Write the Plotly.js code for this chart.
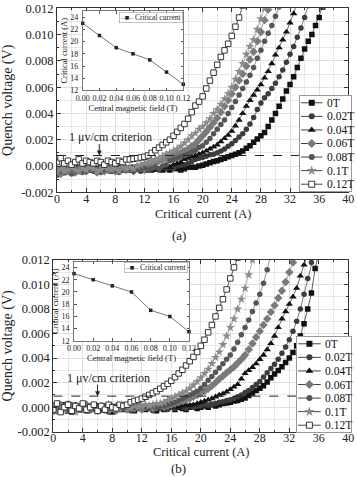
<!DOCTYPE html>
<html><head><meta charset="utf-8">
<script src="https://cdn.plot.ly/plotly-3.0.1.min.js"></script>
<style>html,body{margin:0;padding:0;background:#fff}#chart{width:357px;height:477px}</style>
</head><body><div id="chart"></div>
<script>
// ---------- data ----------
const current = [0,0.5,1,1.5,2,2.5,3,3.5,4,4.5,5,5.5,6,6.5,7,7.5,8,8.5,9,9.5,10,10.5,11,11.5,12,12.5,13,13.5,14,14.5,15,15.5,16,16.5,17,17.5,18,18.5,19,19.5,20,20.5,21,21.5,22,22.5,23,23.5,24,24.5,25,25.5,26,26.5,27,27.5,28,28.5,29,29.5,30,30.5,31,31.5,32,32.5,33,33.5,34,34.5,35,35.5,36,36.5,37];
const seriesNames = ['0T','0.02T','0.04T','0.06T','0.08T','0.1T','0.12T'];

// panel (a), quench voltage in mV
const mVa_0T = [-0.6,-0.3,-0.5,-0.2,-0.4,-0.3,-0.1,-0.4,-0.2,-0.3, -0.2,-0.4,-0.1,-0.3,-0.2,-0.4,-0.2,-0.1,-0.3,-0.2, -0.3,-0.1,-0.2,-0.3,-0.2,-0.1,-0.3,-0.2,-0.2,-0.3, -0.2,-0.3,-0.1,-0.2,-0.3,-0.2,-0.1,-0.1,-0.1,0.0, 0.05,0.15,0.25,0.35,0.4,0.5,0.6,0.7,0.8,0.9, 1.0,1.15,1.35,1.55,1.8,2.05,2.3,2.55,3.0,3.5, 4.0,4.55,5.1,5.7,6.2,6.8,7.5,8.2,8.9,9.5, 10.0,10.7,11.3,12.1,12.9];
const mVa_002T = [-0.4,-0.2,-0.5,-0.3,-0.1,-0.4,-0.3,-0.2,-0.4,-0.1, -0.3,-0.2,-0.4,-0.3,-0.1,-0.2,-0.3,-0.4,-0.2,-0.3, -0.1,-0.3,-0.2,-0.4,-0.2,-0.3,-0.1,-0.2,-0.3,-0.1, -0.2,-0.1,-0.2,0.0,0.05,0.1,0.2,0.35,0.5,0.6, 0.65,0.75,0.85,0.9,1.0,1.15,1.3,1.5,1.7,1.95, 2.2,2.45,2.8,3.2,3.7,4.3,4.8,5.2,5.5,5.9, 6.3,6.8,7.3,7.9,8.5,9.1,9.8,10.5,11.3,12.2];
const mVa_004T = [-0.5,-0.3,-0.2,-0.4,-0.3,-0.2,-0.5,-0.3,-0.1,-0.3, -0.4,-0.2,-0.3,-0.1,-0.3,-0.2,-0.4,-0.2,-0.3,-0.1, -0.2,-0.3,-0.1,-0.2,-0.4,-0.2,-0.1,-0.3,-0.2,-0.1, 0.0,-0.1,0.1,0.2,0.3,0.5,0.6,0.7,0.8,0.9, 1.0,1.15,1.3,1.45,1.6,1.85,2.1,2.35,2.65,3.05, 3.5,4.0,4.55,5.0,5.4,5.8,6.2,6.7,7.2,7.8, 8.45,9.0,9.6,10.2,10.9,11.6,12.4];
const mVa_006T = [-0.3,-0.6,-0.2,-0.4,-0.3,-0.5,-0.2,-0.3,-0.4,-0.2, -0.3,-0.5,-0.2,-0.4,-0.3,-0.2,-0.4,-0.3,-0.1,-0.3, -0.2,-0.4,-0.2,-0.1,-0.3,-0.1,0.0,0.2,0.4,0.5, 0.6,0.7,0.8,0.9,1.0,1.15,1.3,1.5,1.7,2.0, 2.3,2.6,2.95,3.3,3.65,4.1,4.55,5.0,5.5,6.0, 6.5,7.0,7.6,8.1,8.7,9.5,10.2,11.1,11.9,12.8];
const mVa_008T = [-0.7,-0.4,-0.5,-0.3,-0.6,-0.4,-0.3,-0.5,-0.4,-0.2, -0.4,-0.3,-0.5,-0.3,-0.2,-0.4,-0.3,-0.5,-0.3,-0.2, -0.3,-0.4,-0.2,-0.3,-0.1,-0.3,-0.2,-0.1,-0.2,0.0, 0.1,0.4,0.5,0.6,0.7,0.8,0.9,1.05,1.2,1.4, 1.55,1.8,2.1,2.45,2.8,3.15,3.5,4.0,4.45,4.9, 5.4,5.9,6.4,6.9,7.5,8.2,8.8,9.5,10.1,10.7, 11.4,12.1];
const mVa_01T = [-0.5,-0.2,-0.4,-0.3,-0.1,-0.3,-0.4,-0.2,-0.3,-0.1, -0.2,-0.4,-0.3,-0.1,-0.2,-0.3,-0.2,-0.4,-0.1,-0.2, -0.1,-0.2,0.0,0.1,0.2,0.3,0.4,0.5,0.6,0.75, 0.9,1.0,1.15,1.3,1.5,1.75,2.0,2.3,2.5,2.8, 3.0,3.3,3.6,4.0,4.3,4.7,5.1,5.5,6.0,6.6, 7.2,7.8,8.5,9.1,9.6,10.4,11.2,12.0,12.8];
const mVa_012T = [0.3,0.6,0.2,0.4,0.1,0.3,0.5,0.2,0.4,0.3, 0.2,0.4,0.3,0.1,0.4,0.3,0.2,0.4,0.3,0.5, 0.5,0.55,0.6,0.65,0.7,0.8,1.0,1.2,1.4,1.6, 1.8,2.0,2.3,2.6,2.9,3.2,3.6,4.1,4.6,4.9, 5.3,5.9,6.5,7.1,7.7,8.3,8.8,9.3,9.9,10.6, 11.3,12.2];

// panel (b), quench voltage in mV
const mVb_0T = [-0.3,0.1,-0.2,0.2,-0.1,-0.4,0.0,-0.2,0.1,-0.3, -0.1,0.0,-0.3,-0.1,0.1,-0.2,-0.4,0.0,-0.1,-0.2, 0.1,-0.2,-0.3,0.0,-0.1,-0.2,0.1,-0.1,-0.3,0.0, -0.2,-0.1,0.1,-0.2,0.0,-0.1,-0.2,0.0,0.1,-0.1, 0.0,0.1,0.0,0.2,0.1,0.2,0.3,0.35,0.4,0.5, 0.55,0.65,0.75,0.95,1.15,1.35,1.55,1.75,2.05,2.4, 2.7,3.0,3.3,3.65,4.0,4.45,5.0,5.8,6.8,8.0, 9.3,11.3,12.6];
const mVb_002T = [0.2,-0.2,-0.4,0.0,0.3,-0.1,-0.3,0.1,-0.2,0.0, -0.3,0.2,-0.1,-0.2,0.0,-0.4,-0.1,0.1,-0.2,-0.1, 0.0,-0.3,-0.1,0.1,-0.2,0.0,-0.1,-0.3,0.0,-0.1, 0.1,-0.2,0.0,-0.1,0.1,0.0,-0.1,0.1,0.0,0.1, 0.1,0.2,0.15,0.25,0.3,0.4,0.45,0.55,0.6,0.7, 0.85,1.0,1.2,1.35,1.6,1.85,2.1,2.45,2.8,3.15, 3.5,3.9,4.4,4.9,5.5,6.2,7.0,8.0,9.2,10.5, 11.8,12.8];
const mVb_004T = [-0.1,0.3,-0.2,0.1,-0.4,0.2,-0.1,-0.3,0.0,0.2, -0.2,-0.1,0.1,-0.3,0.0,-0.2,0.1,-0.1,-0.2,0.0, -0.1,0.1,-0.2,-0.1,0.0,-0.2,0.1,0.0,-0.1,0.0, -0.1,0.1,0.0,0.1,0.0,0.1,0.2,0.15,0.2,0.3, 0.4,0.5,0.6,0.7,0.85,1.0,1.1,1.25,1.45,1.65, 1.85,2.3,2.75,3.0,3.25,3.55,3.9,4.25,4.7,5.2, 5.8,6.5,7.2,7.8,8.4,9.0,9.7,10.7,11.6,12.5];
const mVb_006T = [0.0,-0.3,0.2,-0.1,-0.2,0.1,-0.3,0.0,-0.1,0.2, -0.2,0.0,-0.3,0.1,-0.1,-0.2,0.0,-0.3,-0.1,0.1, -0.2,0.0,-0.1,0.1,-0.2,0.0,0.1,-0.1,0.0,0.1, 0.0,0.1,0.2,0.3,0.4,0.5,0.6,0.7,0.85,1.0, 1.15,1.3,1.5,1.75,2.0,2.3,2.55,2.8,3.05,3.3, 3.6,3.9,4.25,4.7,5.2,5.7,6.2,6.7,7.2,7.75, 8.3,8.9,9.5,10.2,11.0,11.8,12.6];
const mVb_008T = [-0.4,0.0,-0.2,0.1,-0.3,-0.1,0.2,-0.2,0.0,-0.3, 0.1,-0.2,-0.1,0.0,-0.3,0.1,-0.1,-0.2,0.0,-0.1, 0.1,-0.2,0.0,-0.1,0.1,0.0,-0.1,0.1,0.0,0.1, 0.1,0.2,0.3,0.4,0.55,0.7,0.85,1.0,1.15,1.3, 1.55,1.85,2.2,2.5,2.85,3.2,3.55,3.9,4.25,4.75, 5.3,5.9,6.5,7.1,7.8,8.5,9.2,10.1,11.2,12.4];
const mVb_01T = [0.1,-0.3,0.0,-0.2,0.2,-0.1,-0.4,0.0,0.1,-0.2, -0.1,0.1,-0.3,0.0,-0.1,0.2,-0.2,0.0,-0.1,0.1, 0.0,-0.1,0.1,0.0,0.1,0.2,0.1,0.2,0.3,0.3, 0.4,0.55,0.7,0.85,1.0,1.15,1.3,1.55,1.8,2.1, 2.4,2.75,3.1,3.55,4.05,4.5,5.1,5.8,6.5,7.2, 8.0,8.8,9.7,10.8,12.0,13.0];
const mVb_012T = [-0.2,0.3,-0.4,0.0,0.2,-0.3,0.1,-0.1,0.3,-0.2, 0.0,0.2,-0.3,0.1,-0.2,0.2,0.0,-0.1,0.2,0.1, 0.2,0.4,0.5,0.6,0.7,0.85,1.0,1.15,1.3,1.5, 1.7,1.9,2.15,2.45,2.75,3.05,3.4,3.75,4.1,4.5, 5.0,5.5,6.1,6.7,7.4,8.1,8.8,9.6,10.5,11.4, 12.2];

// insets: critical current vs central magnetic field
const fieldT = [0.00,0.02,0.04,0.06,0.08,0.10,0.12];
const icA = [23,21,19,18,17,15,13];
const icB = [23,22,21,20,17,16,13.5];

// 1 uV/cm criterion lines
const critXa = [0,33.4], critVa = [0.0008,0.0008];
const critXb = [0,33.0], critVb = [0.0009,0.0009];

// ticks
const xTicks = [0,4,8,12,16,20,24,28,32,36,40];
const yTickVals = [-0.002,0,0.002,0.004,0.006,0.008,0.010,0.012];
const yTickText = ['-0.002','0.000','0.002','0.004','0.006','0.008','0.010','0.012'];
const inXTicks = [0,0.02,0.04,0.06,0.08,0.10,0.12];
const inXText = ['0.00','0.02','0.04','0.06','0.08','0.10','0.12'];
const inYTicks = [12,14,16,18,20,22,24];

// ---------- styling ----------
const FONT = '"Liberation Serif", "Times New Roman", serif';
const styles = [
  {symbol:'square', size:5.5, fill:'#111', edge:'#111', ew:0, line:'#333'},
  {symbol:'circle', size:5.5, fill:'#3c3c3c', edge:'#3c3c3c', ew:0, line:'#555'},
  {symbol:'triangle-up', size:6.5, fill:'#111', edge:'#111', ew:0, line:'#444'},
  {symbol:'diamond', size:6.5, fill:'#7a7a7a', edge:'#7a7a7a', ew:0, line:'#888'},
  {symbol:'circle', size:5.5, fill:'#555', edge:'#555', ew:0, line:'#777'},
  {symbol:'star', size:7, fill:'#8a8a8a', edge:'#8a8a8a', ew:0, line:'#9a9a9a'},
  {symbol:'square', size:5.5, fill:'#fff', edge:'#222', ew:0.9, line:'#333'}
];
const seriesA = [mVa_0T,mVa_002T,mVa_004T,mVa_006T,mVa_008T,mVa_01T,mVa_012T];
const seriesB = [mVb_0T,mVb_002T,mVb_004T,mVb_006T,mVb_008T,mVb_01T,mVb_012T];

function dataTraces(list, xa, ya){
  return list.map((v,i)=>({
    type:'scatter', mode:'lines+markers', x: current.slice(0, v.length), y: v.map(m=>m/1000),
    xaxis:xa, yaxis:ya, showlegend:false, hoverinfo:'skip',
    line:{color:styles[i].line, width:0.8},
    marker:{symbol:styles[i].symbol, size:styles[i].size, color:styles[i].fill, line:{color:styles[i].edge, width:styles[i].ew}}
  }));
}
function legendTraces(xa, ya){
  const t = [];
  seriesNames.forEach((n,i)=>{
    t.push({type:'scatter', mode:'lines', x:[0.02,0.44], y:[i+1,i+1], xaxis:xa, yaxis:ya, showlegend:false, hoverinfo:'skip', line:{color:'#444', width:1}});
    t.push({type:'scatter', mode:'markers', x:[0.23], y:[i+1], xaxis:xa, yaxis:ya, showlegend:false, hoverinfo:'skip',
      marker:{symbol:styles[i].symbol, size:styles[i].size+0.5, color:styles[i].fill, line:{color:styles[i].edge, width:styles[i].ew}}});
  });
  return t;
}
function legendNotes(xa, ya){
  return seriesNames.map((n,i)=>({xref:xa, yref:ya, x:0.49, y:i+1, text:n, showarrow:false, xanchor:'left', yanchor:'middle', font:{family:FONT, size:11.5, color:'#111'}}));
}

const traces = [].concat(
  dataTraces(seriesA,'x','y'),
  dataTraces(seriesB,'x2','y2'),
  [
    {type:'scatter', mode:'lines', x:critXa, y:critVa, xaxis:'x', yaxis:'y', showlegend:false, hoverinfo:'skip', line:{color:'#222', width:1, dash:'dash'}},
    {type:'scatter', mode:'lines', x:critXb, y:critVb, xaxis:'x2', yaxis:'y2', showlegend:false, hoverinfo:'skip', line:{color:'#222', width:1, dash:'dash'}},
    {type:'scatter', mode:'lines+markers', x:fieldT, y:icA, xaxis:'x3', yaxis:'y3', cliponaxis:false, showlegend:false, hoverinfo:'skip', line:{color:'#777', width:1}, marker:{symbol:'square', size:3.5, color:'#222'}},
    {type:'scatter', mode:'lines+markers', x:fieldT, y:icB, xaxis:'x4', yaxis:'y4', cliponaxis:false, showlegend:false, hoverinfo:'skip', line:{color:'#777', width:1}, marker:{symbol:'square', size:3.5, color:'#222'}}
  ],
  legendTraces('x5','y5'),
  legendTraces('x6','y6')
);

const tickFont = {family:FONT, size:12.5, color:'#222'};
const xTickFont = {family:FONT, size:12, color:'#222'};
function mainX(dom, anchor){
  return {domain:dom, anchor:anchor, range:[0,40], tickmode:'array', tickvals:xTicks, tickfont:xTickFont,
    ticks:'inside', ticklen:4, tickcolor:'#333', showline:true, linecolor:'#333', linewidth:1, mirror:'ticks',
    showgrid:true, gridcolor:'#d9d9d9', gridwidth:0.6, zeroline:false,
    minor:{tickmode:'linear', tick0:0, dtick:2, ticks:'inside', ticklen:2, tickcolor:'#333', showgrid:true, gridcolor:'#d9d9d9', gridwidth:0.6}};
}
function mainY(dom, anchor){
  return {domain:dom, anchor:anchor, range:[-0.002,0.012], tickmode:'array', tickvals:yTickVals, ticktext:yTickText, tickfont:tickFont,
    ticks:'inside', ticklen:4, tickcolor:'#333', showline:true, linecolor:'#333', linewidth:1, mirror:'ticks',
    showgrid:true, gridcolor:'#d9d9d9', gridwidth:0.6, zeroline:false,
    minor:{tickmode:'linear', tick0:0, dtick:0.001, ticks:'inside', ticklen:2, tickcolor:'#333', showgrid:true, gridcolor:'#d9d9d9', gridwidth:0.6},
    title:{text:'Quench voltage (V)', font:{family:FONT, size:14, color:'#222'}, standoff:5}};
}
const inFont = {family:FONT, size:8, color:'#222'};
function insetX(dom, anchor){
  return {domain:dom, anchor:anchor, range:[0,0.12], tickmode:'array', tickvals:inXTicks, ticktext:inXText, tickfont:inFont,
    ticks:'inside', ticklen:2.5, tickcolor:'#555', showline:true, linecolor:'#555', linewidth:0.8, mirror:'ticks', showgrid:false, zeroline:false,
    title:{text:'Central magnetic field (T)', font:{family:FONT, size:8.5, color:'#222'}, standoff:0}};
}
function insetY(dom, anchor){
  return {domain:dom, anchor:anchor, range:[12,25], tickmode:'array', tickvals:inYTicks, tickfont:inFont, ticklabelstandoff:2,
    ticks:'inside', ticklen:2.5, tickcolor:'#555', showline:true, linecolor:'#555', linewidth:0.8, mirror:'ticks', showgrid:false, zeroline:false,
    title:{text:'Critical current (A)', font:{family:FONT, size:8.5, color:'#222'}, standoff:1}};
}
function legAx(dom, anchor, isY){
  return {domain:dom, anchor:anchor, range: isY ? [7.5,0.5] : [0,1], showline:true, linecolor:'#999', linewidth:1, mirror:true,
    showgrid:false, zeroline:false, showticklabels:false, ticks:'', fixedrange:true};
}

const W = 357, H = 477;
const px = v => v / W, py = v => (H - v) / H;

const insetLegendText = '<span style="color:#666">–</span>■<span style="color:#666">–</span> Critical current';
const xTitleFont = {family:FONT, size:12.5, color:'#222'};
function paperText(x, y, text, font){
  return {xref:'paper', yref:'paper', x:px(x), y:py(y), xanchor:'center', yanchor:'middle', text:text, showarrow:false, font:font};
}

const layout = {
  width:W, height:H, margin:{l:0,r:0,t:0,b:0}, paper_bgcolor:'#fff', plot_bgcolor:'#fff', showlegend:false,
  font:{family:FONT},
  xaxis: mainX([px(57), px(348.3)], 'y'),
  yaxis: mainY([py(192.3), py(8.3)], 'x'),
  xaxis2: mainX([px(53.3), px(348.3)], 'y2'),
  yaxis2: mainY([py(431.7), py(260)], 'x2'),
  xaxis3: insetX([px(82.7), px(183.3)], 'y3'),
  yaxis3: insetY([py(90.4), py(11.1)], 'x3'),
  xaxis4: insetX([px(74), px(189)], 'y4'),
  yaxis4: insetY([py(340.9), py(261.4)], 'x4'),
  xaxis5: legAx([px(300), px(351)], 'y5', false),
  yaxis5: legAx([py(191), py(96)], 'x5', true),
  xaxis6: legAx([px(297), px(351)], 'y6', false),
  yaxis6: legAx([py(432), py(337)], 'x6', true),
  annotations: [].concat(
    legendNotes('x5','y5'),
    legendNotes('x6','y6'),
    [
      paperText(202.6, 213.5, 'Critical current (A)', xTitleFont),
      paperText(200.8, 451.5, 'Critical current (A)', xTitleFont),
      {xref:'x', yref:'y', x:7.4, y:0.0022, xanchor:'center', yanchor:'middle', text:'1 μv/cm criterion', showarrow:false, font:{family:FONT, size:12, color:'#222'}},
      {xref:'x', yref:'y', x:5.8, y:critVa[0], ax:0, ay:-13, text:'', showarrow:true, arrowhead:2, arrowsize:1, arrowwidth:1, arrowcolor:'#222', standoff:0},
      {xref:'x2', yref:'y2', x:7.5, y:0.00237, xanchor:'center', yanchor:'middle', text:'1 μv/cm criterion', showarrow:false, font:{family:FONT, size:12, color:'#222'}},
      {xref:'x2', yref:'y2', x:6.0, y:critVb[0], ax:0, ay:-13, text:'', showarrow:true, arrowhead:2, arrowsize:1, arrowwidth:1, arrowcolor:'#222', standoff:0},
      {xref:'paper', yref:'paper', x:px(182.5), y:py(11.8), xanchor:'right', yanchor:'top', text:insetLegendText, showarrow:false, bgcolor:'#fff', bordercolor:'#999', borderwidth:0.6, borderpad:0.5, font:{family:FONT, size:7.5, color:'#222'}},
      {xref:'paper', yref:'paper', x:px(188.3), y:py(262.2), xanchor:'right', yanchor:'top', text:insetLegendText, showarrow:false, bgcolor:'#fff', bordercolor:'#999', borderwidth:0.6, borderpad:0.5, font:{family:FONT, size:7.5, color:'#222'}},
      paperText(178.5, 235, '(a)', {family:FONT, size:13, color:'#222'}),
      paperText(178.5, 468.5, '(b)', {family:FONT, size:13, color:'#222'})
    ]
  )
};

// Pull the main x tick labels closer to the axis, as in the reference figure.
function liftMainXLabels(){
  document.querySelectorAll('g.xtick text, g.x2tick text').forEach(t => {
    const y = parseFloat(t.getAttribute('y') || '0');
    t.setAttribute('y', String(y - 5));
  });
}

Plotly.newPlot('chart', traces, layout, {staticPlot:true, displayModeBar:false}).then(liftMainXLabels);
</script></body></html>
